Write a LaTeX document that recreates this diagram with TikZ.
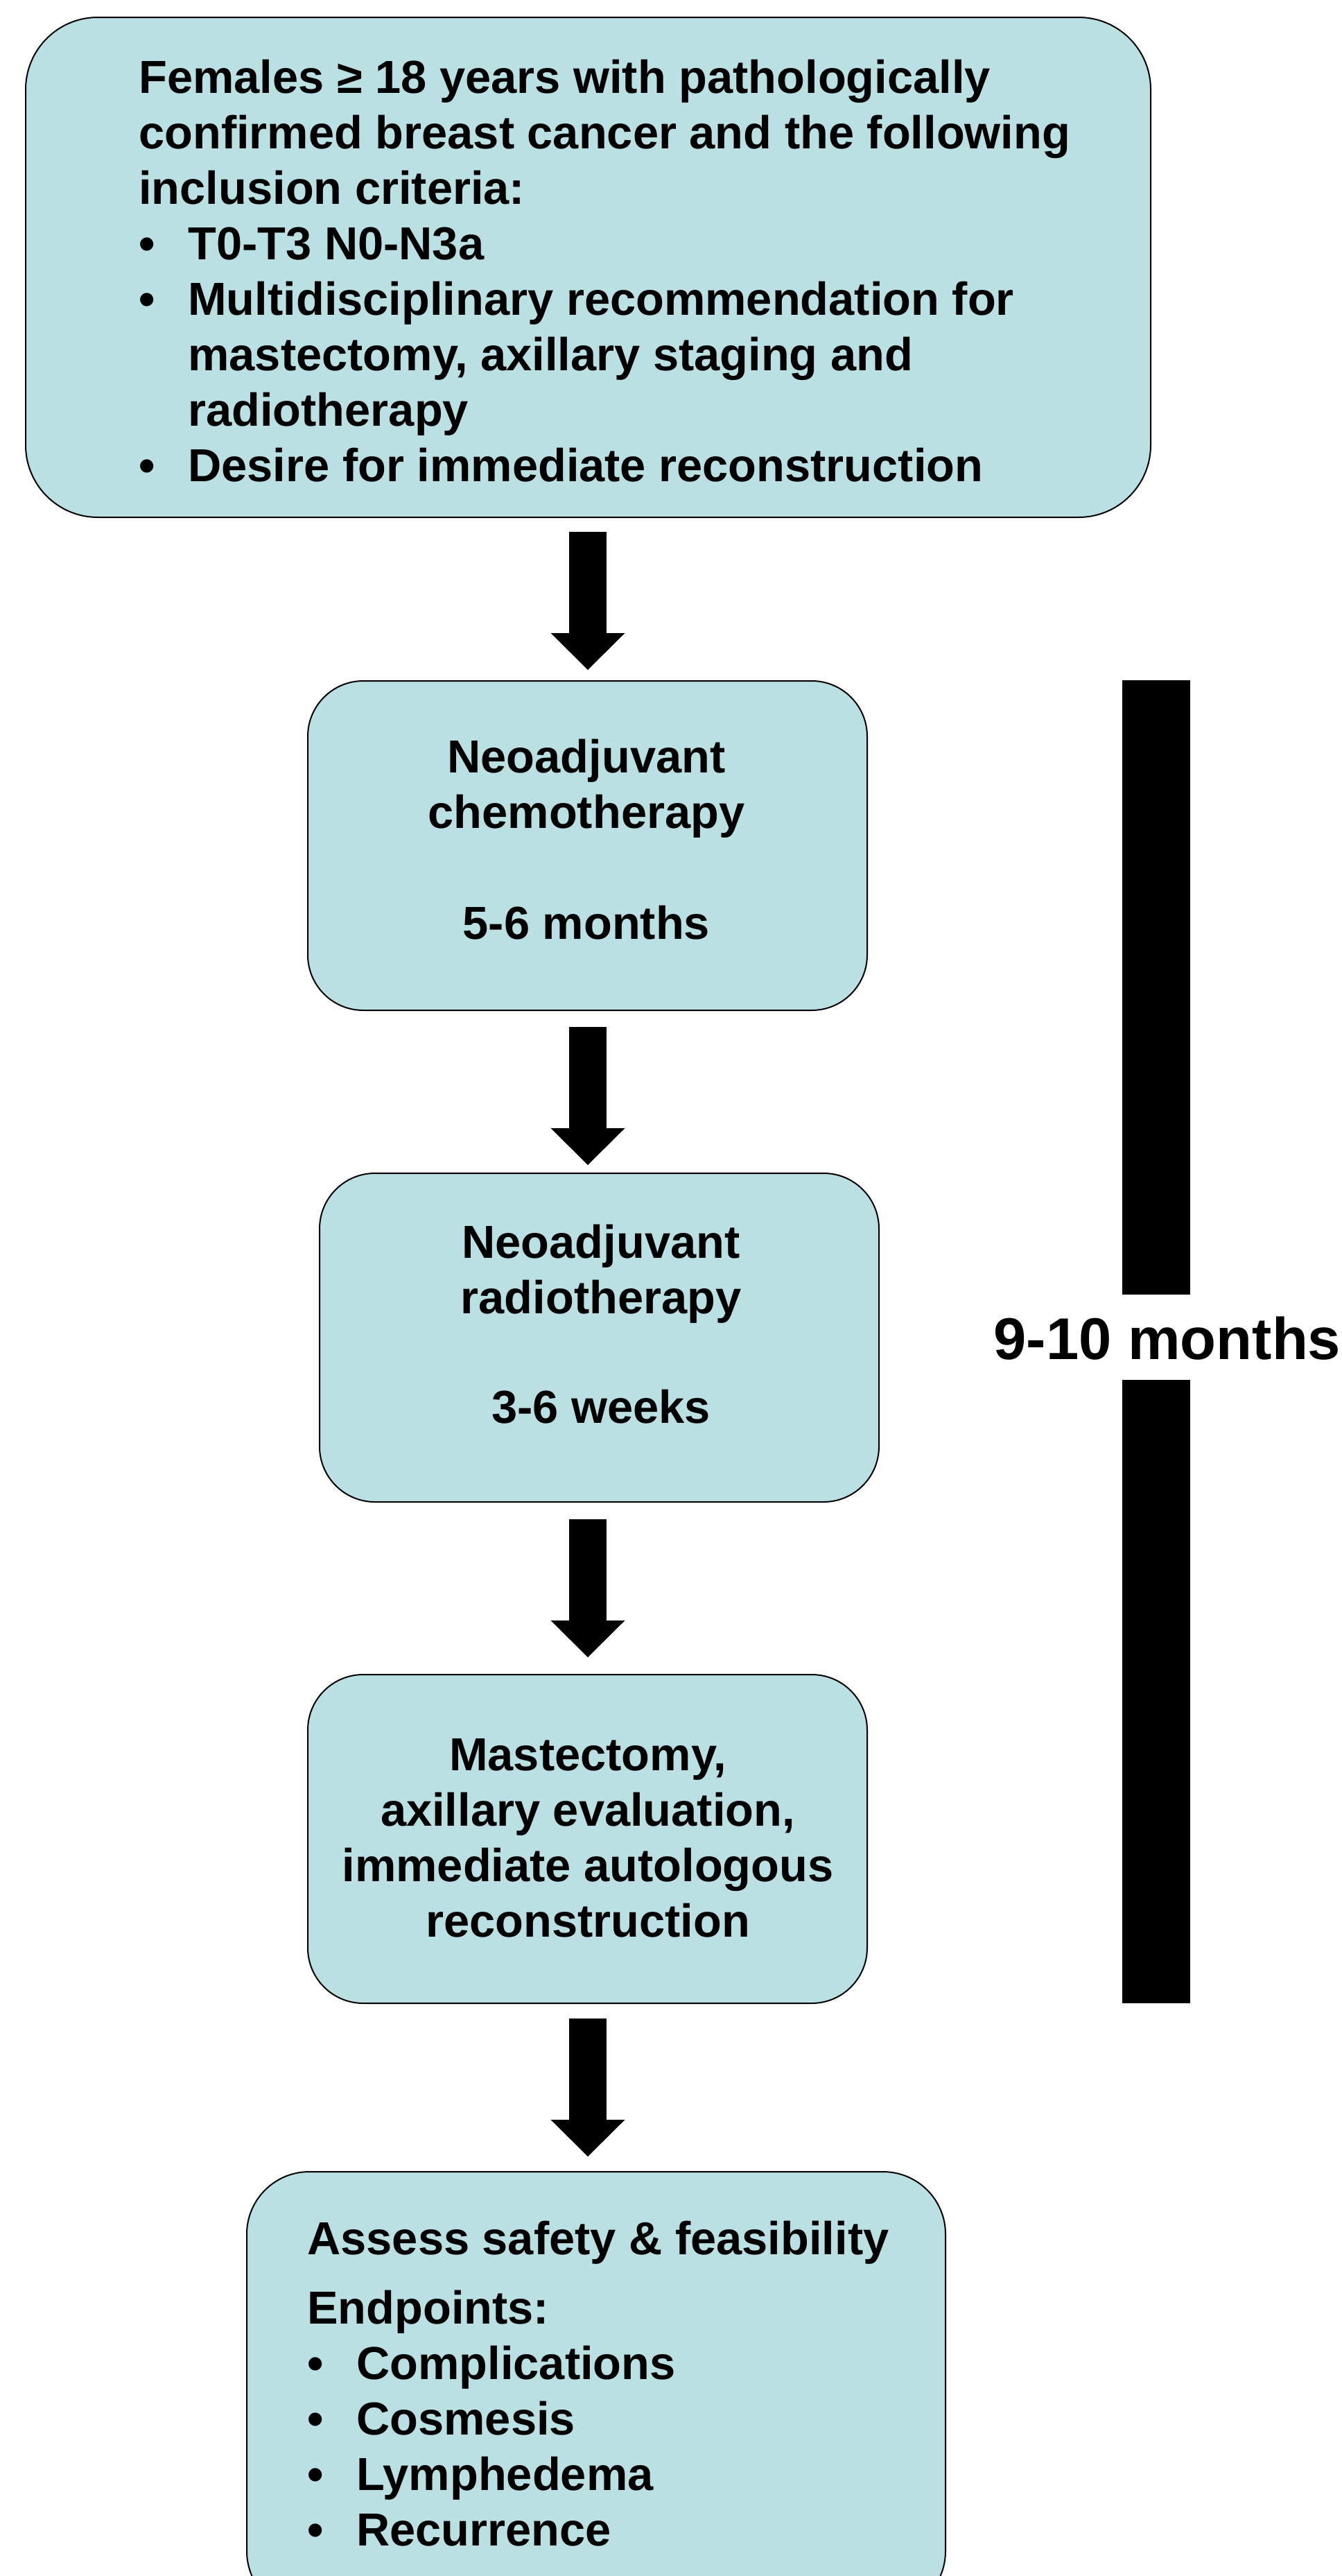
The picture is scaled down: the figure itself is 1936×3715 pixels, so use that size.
\documentclass[tikz,border=0pt]{standalone}
\usepackage{fontspec}
\setmainfont{Liberation Sans}
\usetikzlibrary{arrows.meta}
\definecolor{boxfill}{HTML}{BBE0E3}
\newcommand{\mybul}{\makebox[35.5pt][l]{•}}
\newcommand{\myind}{\hspace*{35.5pt}}
\begin{document}
\begin{tikzpicture}[x=0.5pt,y=-0.5pt,
  box/.style={draw=black, line width=1pt, fill=boxfill, inner sep=0pt, anchor=north west},
  boxtext/.style={inner sep=0pt, font=\bfseries\fontsize{33.4}{40}\selectfont},
  bigarrow/.style={line width=27pt, -{Triangle[width=53.5pt,length=26.5pt,line width=0pt]}}
]
\useasboundingbox (0,0) rectangle (1936,3715);
\clip (0,0) rectangle (1936,3715);

% boxes
\node[box, minimum width=811.5pt, minimum height=360.5pt, rounded corners=52pt] (b1) at (36,24) {};
\node[box, minimum width=403.5pt, minimum height=237.5pt, rounded corners=40pt] (b2) at (443,981) {};
\node[box, minimum width=403.5pt, minimum height=237pt, rounded corners=40pt] (b3) at (460,1691) {};
\node[box, minimum width=403.5pt, minimum height=237pt, rounded corners=40pt] (b4) at (443,2414) {};
\node[box, minimum width=504pt, minimum height=318.5pt, rounded corners=45pt] (b5) at (355,3131) {};

% texts
\node[boxtext, anchor=base west] (t1) at (200,134) {\parbox[t]{760pt}{\raggedright
Females ≥ 18 years with pathologically\\
confirmed breast cancer and the following\\
inclusion criteria:\\
\mybul T0-T3 N0-N3a\\
\mybul Multidisciplinary recommendation for\\
\myind mastectomy, axillary staging and\\
\myind radiotherapy\\
\mybul Desire for immediate reconstruction}};

\node[boxtext, anchor=base] (t2) at (846,1114) {\parbox[t]{400pt}{\centering
Neoadjuvant\\ chemotherapy\\[40pt] 5-6 months}};

\node[boxtext, anchor=base] (t3) at (867,1814) {\parbox[t]{400pt}{\centering
Neoadjuvant\\ radiotherapy\\[39pt] 3-6 weeks}};

\node[boxtext, anchor=base] (t4) at (848,2553) {\parbox[t]{400pt}{\centering
Mastectomy,\\ axillary evaluation,\\ immediate autologous\\ reconstruction}};

\node[boxtext, anchor=base west] (t5) at (443,3251) {\parbox[t]{480pt}{\raggedright
Assess safety \& feasibility\\[10pt]
Endpoints:\\
\mybul Complications\\
\mybul Cosmesis\\
\mybul Lymphedema\\
\mybul Recurrence}};

% arrows
\coordinate (ax) at (848,0);
\draw[bigarrow, shorten <=10pt, shorten >=7.5pt] (b1.south -| ax) -- (b2.north -| ax);
\draw[bigarrow, shorten <=11.5pt, shorten >=5.5pt] (b2.south -| ax) -- (b3.north -| ax);
\draw[bigarrow, shorten <=12pt, shorten >=12pt] (b3.south -| ax) -- (b4.north -| ax);
\draw[bigarrow, shorten <=10.5pt, shorten >=10.5pt] (b4.south -| ax) -- (b5.north -| ax);

% duration bar
\fill[black] (1619,981) rectangle (1717,1867);
\fill[black] (1619,1990) rectangle (1717,2889);
\node[inner sep=0pt, anchor=base, font=\bfseries\fontsize{42.5}{50}\selectfont] (dur) at (1684,1960) {9-10 months};
\end{tikzpicture}
\end{document}
